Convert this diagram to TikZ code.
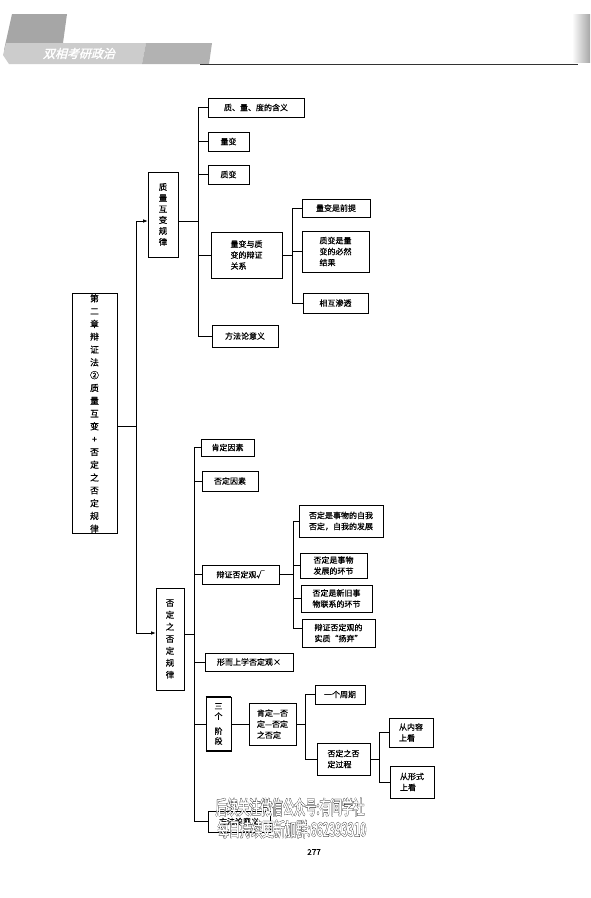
\documentclass[tikz,border=0pt]{standalone}
\usepackage{fontspec}
\usepackage{graphicx}
\usetikzlibrary{arrows.meta}
\newfontfamily\cjk{Noto Sans CJK SC}[FakeBold=0.6]
\newfontfamily\hdrfont{Noto Sans CJK SC}[FakeSlant=0.25,FakeBold=2]
\newfontfamily\wmfont{Noto Sans CJK SC}[FakeBold=2]
\newfontfamily\wmoutline{Noto Sans CJK SC}[FakeBold=5.5]
\begin{document}
\begin{tikzpicture}[x=1pt,y=-1pt,
  box/.style={draw, line width=0.6pt, inner sep=1pt, font=\cjk\fontsize{8}{11}\selectfont, align=left},
  vbox/.style={box, align=center},
  ln/.style={line width=0.6pt},
  arr/.style={ln, -{Latex[length=4.5pt,width=3.5pt]}},
  wmk/.style={inner sep=0pt, font=\wmfont\fontsize{19}{19}\selectfont, text=white},
  wmkb/.style={inner sep=0pt, font=\wmoutline\fontsize{19}{19}\selectfont, text=black}]
\fill[white] (0,0) rectangle (590,898);
\useasboundingbox (0,0) rectangle (590,898);
% header banner
\fill[gray!70] (12,14) -- (67,14) -- (63,43) -- (4,50) -- cycle;
\fill[gray!40] (6,43) -- (146,43) -- (142,64) -- (9,64) -- (3,55) -- cycle;
\fill[gray!60] (146,43) -- (212,43) -- (209,64) -- (142,64) -- cycle;
\node[font=\hdrfont\fontsize{12}{12}\selectfont, text=white, inner sep=0pt] (hdr) at (79,53.5) {双相考研政治};
\draw[line width=0.8pt, black!80] (200,64) -- (578,64);
\shade[left color=white, right color=gray!70] (572,14) rectangle (590,62);
% root
\node[vbox, minimum width=45pt, minimum height=229pt, font=\cjk\fontsize{8.8}{12.8}\selectfont] (root) at (94.5,413.5)
  {第\\二\\章\\辩\\证\\法\\②\\质\\量\\互\\变\\+\\否\\定\\之\\否\\定\\规\\律};
\node[vbox, minimum width=30pt, minimum height=85pt, font=\cjk\fontsize{8.5}{11}\selectfont] (Q) at (163,214.5) {质\\量\\互\\变\\规\\律};
\node[vbox, minimum width=28pt, minimum height=102pt, font=\cjk\fontsize{8.5}{12}\selectfont] (N) at (170,639) {否\\定\\之\\否\\定\\规\\律};
\coordinate (mv) at (136,0);
\draw[ln] ([yshift=-12.5pt]root.east) -- ([yshift=-12.5pt]root.east -| mv);
\draw[ln] ([yshift=-6.5pt]Q.west -| mv) -- ([yshift=6pt]N.west -| mv);
\draw[arr] ([yshift=-6.5pt]Q.west -| mv) -- ([yshift=-6.5pt]Q.west);
\draw[arr] ([yshift=6pt]N.west -| mv) -- ([yshift=6pt]N.west);
% upper branch
\node[box, minimum width=96pt, minimum height=19pt, align=center] (q1) at (256,107.5) {质、量、度的含义};
\node[box, minimum width=41pt, minimum height=19pt, align=center] (q2) at (228.5,141.5) {量变};
\node[box, minimum width=41pt, minimum height=19pt, align=center] (q3) at (228.5,174.5) {质变};
\node[box, minimum width=71pt, minimum height=46pt] (q4) at (246.5,255) {量变与质\\变的辩证\\关系};
\node[box, minimum width=66pt, minimum height=22pt, align=center] (q5) at (245,336) {方法论意义};
\coordinate (uv) at (198,0);
\draw[ln] (q1.west -| uv) -- (q5.west -| uv);
\draw[ln] ([yshift=-6.5pt]Q.east) -- ([yshift=-6.5pt]Q.east -| uv);
\foreach \n in {q1,q2,q3,q4,q5} \draw[ln] (\n.west -| uv) -- (\n.west);
\node[box, minimum width=68pt, minimum height=18pt, align=center] (q4a) at (336,208) {量变是前提};
\node[box, minimum width=67pt, minimum height=41pt] (q4b) at (335.5,251.5) {质变是量\\变的必然\\结果};
\node[box, minimum width=65pt, minimum height=20pt, align=center] (q4c) at (335.5,303) {相互渗透};
\coordinate (uv2) at (292,0);
\draw[ln] (q4a.west -| uv2) -- (q4c.west -| uv2);
\draw[ln] (q4.east) -- (q4.east -| uv2);
\foreach \n in {q4a,q4b,q4c} \draw[ln] (\n.west -| uv2) -- (\n.west);
% lower branch
\node[box, minimum width=53pt, minimum height=17pt, align=center] (n1) at (227.5,447.5) {肯定因素};
\node[box, minimum width=56pt, minimum height=20pt, align=center] (n2) at (230,481) {否定因素};
\node[box, minimum width=77pt, minimum height=19pt, align=center] (n3) at (240.5,574.5) {辩证否定观√};
\node[box, minimum width=88pt, minimum height=18pt, align=center] (n4) at (249,662) {形而上学否定观×};
\node[vbox, minimum width=25pt, minimum height=54pt, font=\cjk\fontsize{8}{10}\selectfont] (n5) at (218.5,724) {三\\个\\[5pt]阶\\段};
\draw[line width=2.2pt] (n5.north west) -- (n5.north east);
\draw[line width=2.2pt] (n5.south west) -- (n5.south east);
\node[box, minimum width=62pt, minimum height=21pt, align=center] (n6) at (239,821.5) {方法论意义};
\coordinate (lv) at (194,0);
\draw[ln] (n1.west -| lv) -- (n6.west -| lv);
\draw[ln] ([yshift=5pt]N.east) -- ([yshift=5pt]N.east -| lv);
\foreach \n in {n1,n2,n3,n4,n5,n6} \draw[ln] (\n.west -| lv) -- (\n.west);
% dialectical negation
\node[box, minimum width=84pt, minimum height=32pt] (n3a) at (341,521) {否定是事物的自我\\否定，自我的发展};
\node[box, minimum width=67pt, minimum height=25pt] (n3b) at (333.5,565.5) {否定是事物\\发展的环节};
\node[box, minimum width=71pt, minimum height=27pt] (n3c) at (336.5,598.5) {否定是新旧事\\物联系的环节};
\node[box, minimum width=73pt, minimum height=28pt] (n3d) at (338.5,633) {辩证否定观的\\实质“扬弃”};
\coordinate (lv2) at (293,0);
\draw[ln] (n3a.west -| lv2) -- ([yshift=5pt]n3d.west -| lv2);
\draw[ln] (n3.east) -- (n3.east -| lv2);
\foreach \n in {n3a,n3b,n3c} \draw[ln] (\n.west -| lv2) -- (\n.west);
\draw[ln] ([yshift=5pt]n3d.west -| lv2) -- ([yshift=5pt]n3d.west);
% three stages
\node[box, minimum width=47pt, minimum height=42pt] (n5a) at (272.5,724) {肯定—否\\定—否定\\之否定};
\draw[ln] (n5.east) -- (n5a.west);
\node[box, minimum width=50pt, minimum height=19pt, align=center] (n5b) at (340,694.5) {一个周期};
\node[box, minimum width=53pt, minimum height=32pt] (n5c) at (343.5,759) {否定之否\\定过程};
\coordinate (lv3) at (305,0);
\draw[ln] (n5b.west -| lv3) -- (n5c.west -| lv3);
\draw[ln] (n5a.east) -- (n5a.east -| lv3);
\foreach \n in {n5b,n5c} \draw[ln] (\n.west -| lv3) -- (\n.west);
\node[box, minimum width=44pt, minimum height=29pt] (n5c1) at (411,732.5) {从内容\\上看};
\node[box, minimum width=44pt, minimum height=32pt] (n5c2) at (412,782) {从形式\\上看};
\coordinate (lv4) at (379,0);
\draw[ln] (n5c1.west -| lv4) -- (n5c2.west -| lv4);
\draw[ln] (n5c.east) -- (n5c.east -| lv4);
\foreach \n in {n5c1,n5c2} \draw[ln] (\n.west -| lv4) -- (\n.west);
% watermark
\node[wmkb] (w1b) at (290,807) {\scalebox{0.59}[1]{后续关注微信公众号:有间学社}};
\node[wmk] (w1) at (290,807) {\scalebox{0.59}[1]{后续关注微信公众号:有间学社}};
\node[wmkb] (w2b) at (292,829) {\scalebox{0.59}[1]{每日持续更新加群:662393310}};
\node[wmk] (w2) at (292,829) {\scalebox{0.59}[1]{每日持续更新加群:662393310}};
% page number
\node[font=\cjk\fontsize{8}{8}\selectfont, inner sep=0pt] (pg) at (314,852) {277};
\end{tikzpicture}
\end{document}
